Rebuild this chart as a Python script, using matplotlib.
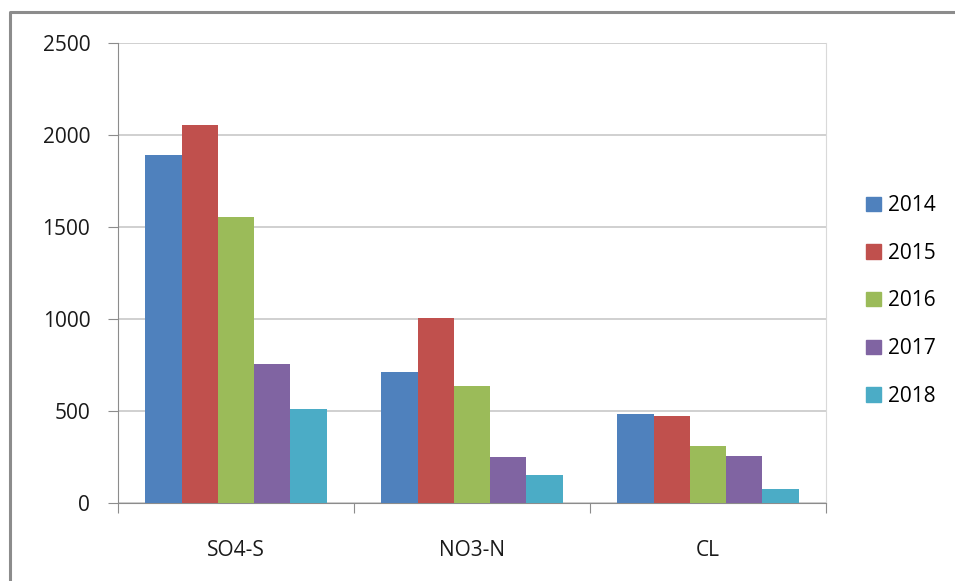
import matplotlib
matplotlib.use("Agg")
import matplotlib.pyplot as plt
from matplotlib.lines import Line2D
import numpy as np

# data
categories = ['SO4-S', 'NO3-N', 'CL']
years = ['2014', '2015', '2016', '2017', '2018']
v2014 = [1893, 709, 484]
v2015 = [2052, 1005, 470]
v2016 = [1552, 637, 310]
v2017 = [756, 247, 255]
v2018 = [511, 150, 72]
series = [v2014, v2015, v2016, v2017, v2018]
colors = ['#4F81BD', '#C0504D', '#9BBB59', '#8064A2', '#4BACC6']

plt.rcParams['font.family'] = ['Open Sans', 'DejaVu Sans']
fs = 15

fig = plt.figure(figsize=(9.55, 5.81), dpi=100)
ax = fig.add_axes([118 / 955, 1 - 502.7 / 581, (826 - 118) / 955, (502.7 - 43) / 581])

# outer chart frame (only top and left visible in the crop)
fx = 9.5 / 955
fy = 1 - 12 / 581
fig.add_artist(Line2D([fx, fx, 1.0], [0.0, fy, fy], transform=fig.transFigure,
                      color='#8c8c8c', linewidth=2.2))

x = np.arange(len(categories))
w = 1 / 6.5
for i, (vals, c, yr) in enumerate(zip(series, colors, years)):
    ax.bar(x + (i - 2) * w, vals, width=w, color=c, label=yr, edgecolor='none', zorder=3)

ax.set_xlim(-0.5, 2.5)
ax.set_ylim(0, 2500)
ax.set_yticks([0, 500, 1000, 1500, 2000, 2500])
ax.grid(axis='y', color='#c8c8c8', linewidth=1.2, zorder=0)

ax.spines['top'].set_visible(False)
ax.spines['right'].set_color('#d9d9d9')
ax.spines['left'].set_color('#8c8c8c')
ax.spines['bottom'].set_color('#8c8c8c')

# group boundaries as major ticks, labels on minor ticks at centres
ax.set_xticks([-0.5, 0.5, 1.5, 2.5])
ax.set_xticklabels([])
ax.set_xticks(x, minor=True)
ax.set_xticklabels(categories, minor=True)
ax.tick_params(axis='x', which='major', length=7, color='#8c8c8c', direction='out')
ax.tick_params(axis='x', which='minor', length=0, pad=27, labelsize=fs, labelcolor='#1a1a1a')
ax.tick_params(axis='y', length=7, color='#8c8c8c', pad=13, labelsize=fs, labelcolor='#1a1a1a')

handles = [plt.Rectangle((0, 0), 1, 1, color=c) for c in colors]
fig.legend(handles, years, loc='center left', bbox_to_anchor=(866 / 955, 1 - 301 / 581),
           frameon=False, fontsize=fs, handlelength=0.7, handleheight=0.7,
           handletextpad=0.35, labelspacing=1.28, borderpad=0, borderaxespad=0)

fig.savefig('out.png', dpi=100)
